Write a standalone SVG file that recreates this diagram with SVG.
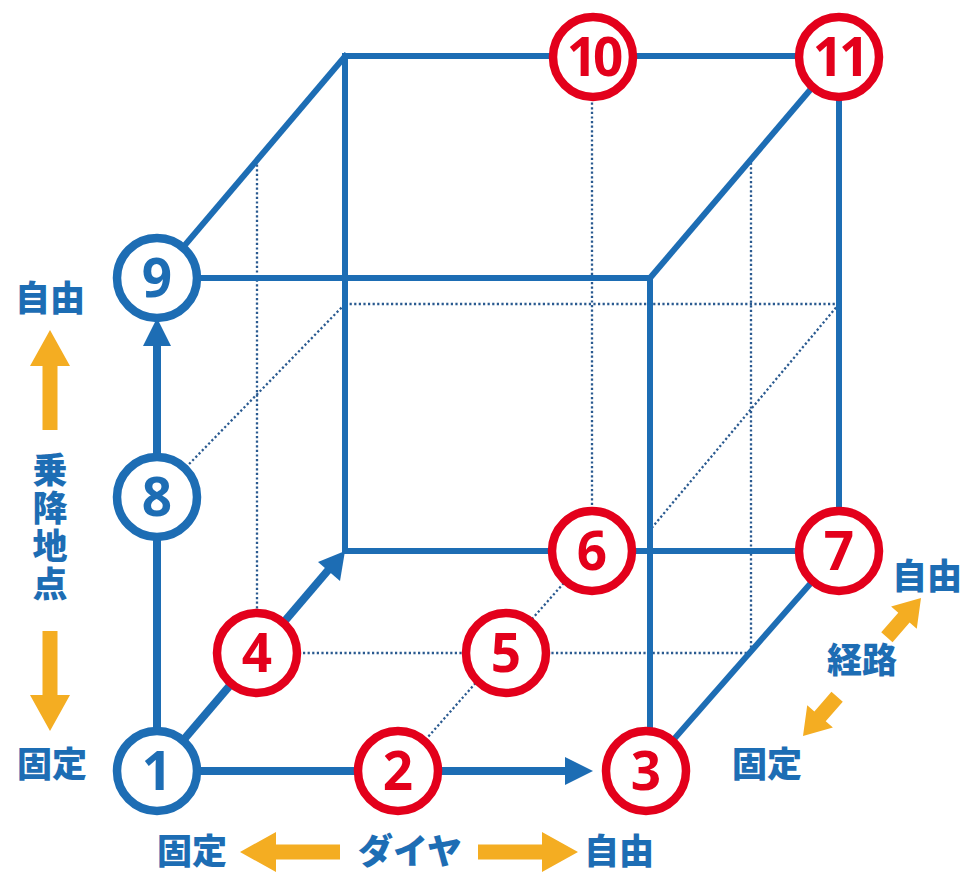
<svg xmlns="http://www.w3.org/2000/svg" xmlns:xlink="http://www.w3.org/1999/xlink" width="971" height="873" viewBox="0 0 971 873">
<style>
.edge{stroke:#1d6db4;stroke-width:6;fill:none;stroke-linecap:butt}
.main{stroke:#1d6db4;stroke-width:8;fill:none}
.dot{stroke:#2a5a90;stroke-width:2.3;fill:none;stroke-dasharray:2.2 2.4}
.head{fill:#1d6db4}
.nb circle{fill:#fff;stroke:#1d6db4;stroke-width:8.5}
.nr circle{fill:#fff;stroke:#e3001b;stroke-width:8.5}
.nb text{fill:#1d6db4}
.nr text{fill:#e3001b}
.num{font-family:"Noto Sans","Open Sans","Liberation Sans",sans-serif;font-weight:700;font-size:53px;text-anchor:middle}
.lbl{font-family:"Noto Sans CJK JP","Noto Sans CJK SC",sans-serif;font-weight:900;font-size:35px;fill:#1d6db4;text-anchor:middle}
.oa{fill:#f4ad22}
</style>
<defs>
<path id="longArrow" d="M0,0 L-36,-20 L-36,-7.5 L-100,-7.5 L-100,7.5 L-36,7.5 L-36,20 Z"/>
<path id="shortArrow" d="M0,0 L-26,-17 L-26,-7.5 L-52,-7.5 L-52,7.5 L-26,7.5 L-26,17 Z"/>
</defs>

<g id="dotted">
<line class="dot" x1="257" y1="160" x2="257" y2="614"/>
<line class="dot" x1="592" y1="98" x2="592" y2="510"/>
<line class="dot" x1="751" y1="158" x2="751" y2="654"/>
<line class="dot" x1="345" y1="304" x2="839" y2="304"/>
<line class="dot" x1="257" y1="653" x2="751" y2="653"/>
<line class="dot" x1="157" y1="497" x2="345" y2="304"/>
<line class="dot" x1="839" y1="304" x2="650" y2="530"/>
<line class="dot" x1="398" y1="771" x2="592" y2="551"/>
</g>

<g id="connectors">
<line class="edge" x1="345" y1="56" x2="839" y2="56"/>
<line class="edge" x1="345" y1="53" x2="345" y2="551"/>
<line class="edge" x1="342" y1="551" x2="839" y2="551"/>
<line class="edge" x1="839" y1="56" x2="839" y2="551"/>
<line class="edge" x1="157" y1="278" x2="347" y2="54"/>
<line class="edge" x1="839" y1="56" x2="650" y2="278"/>
<line class="edge" x1="157" y1="278" x2="653" y2="278"/>
<line class="edge" x1="650" y1="275" x2="650" y2="771"/>
<line class="edge" x1="839" y1="551" x2="646" y2="771"/>
<line class="main" x1="157" y1="771" x2="157" y2="340"/>
<polygon class="head" points="157,318 143,346 171,346"/>
<line class="main" x1="157" y1="771" x2="570" y2="771"/>
<polygon class="head" points="593,771 565,757 565,785"/>
<line class="main" x1="157" y1="771" x2="330" y2="568"/>
<polygon class="head" points="345,551 318,562 340,581"/>
</g>

<g id="node1" class="nb"><circle cx="157" cy="771" r="40"/><text class="num" x="157" y="790">1</text></g>
<g id="node2" class="nr"><circle cx="398" cy="771" r="40"/><text class="num" x="398" y="790">2</text></g>
<g id="node3" class="nr"><circle cx="646" cy="771" r="40"/><text class="num" x="646" y="790">3</text></g>
<g id="node4" class="nr"><circle cx="257" cy="653" r="40"/><text class="num" x="257" y="672">4</text></g>
<g id="node5" class="nr"><circle cx="506" cy="653" r="40"/><text class="num" x="506" y="672">5</text></g>
<g id="node6" class="nr"><circle cx="592" cy="551" r="40"/><text class="num" x="592" y="570">6</text></g>
<g id="node7" class="nr"><circle cx="839" cy="551" r="40"/><text class="num" x="839" y="570">7</text></g>
<g id="node8" class="nb"><circle cx="157" cy="497" r="40"/><text class="num" x="157" y="516">8</text></g>
<g id="node9" class="nb"><circle cx="157" cy="278" r="40"/><text class="num" x="157" y="297">9</text></g>
<g id="node10" class="nr"><circle cx="593" cy="57" r="40"/><text class="num" x="593" y="76" letter-spacing="-4">10</text></g>
<g id="node11" class="nr"><circle cx="839" cy="57" r="40"/><text class="num" x="839" y="76" letter-spacing="-4">11</text></g>

<g id="axis-boarding">
<text class="lbl" x="50" y="311">自由</text>
<use xlink:href="#longArrow" class="oa" transform="translate(50,330) rotate(-90)"/>
<text class="lbl" x="50" y="452" style="writing-mode:vertical-rl;text-anchor:start;letter-spacing:3px">乗降地点</text>
<use xlink:href="#longArrow" class="oa" transform="translate(50,731) rotate(90)"/>
<text class="lbl" x="52" y="777">固定</text>
</g>

<g id="axis-diagram">
<text class="lbl" x="192" y="864">固定</text>
<use xlink:href="#longArrow" class="oa" transform="translate(240,852) rotate(180)"/>
<text class="lbl" x="410" y="864">ダイヤ</text>
<use xlink:href="#longArrow" class="oa" transform="translate(578,852)"/>
<text class="lbl" x="619" y="864">自由</text>
</g>

<g id="axis-route">
<text class="lbl" x="927" y="589">自由</text>
<use xlink:href="#shortArrow" class="oa" transform="translate(921,598) rotate(-49)"/>
<text class="lbl" x="862" y="673">経路</text>
<use xlink:href="#shortArrow" class="oa" transform="translate(803,736) rotate(131)"/>
<text class="lbl" x="767" y="777">固定</text>
</g>
</svg>
